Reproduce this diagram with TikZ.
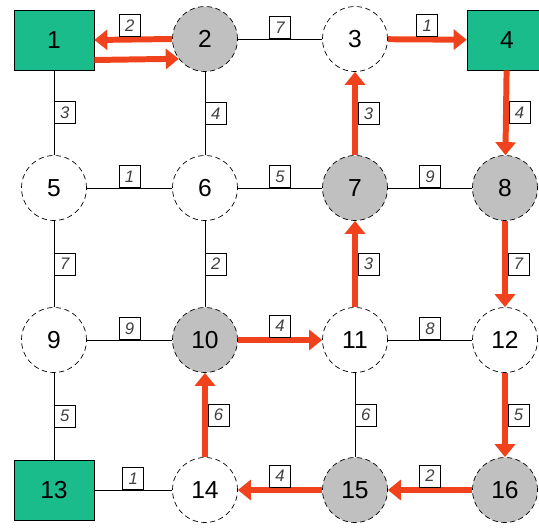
\documentclass[tikz,border=0pt]{standalone}
\usepackage{fontspec}
\setmainfont{Liberation Sans}
\usetikzlibrary{arrows.meta,positioning}
\definecolor{sqgreen}{HTML}{1ABC8C}
\definecolor{pathred}{HTML}{F0421C}
\definecolor{visgray}{HTML}{C0C0C0}

\begin{document}
\begin{tikzpicture}[x=0.02cm,y=-0.02cm,
  circ/.style={circle,draw,densely dashed,thin,minimum size=1.3cm,inner sep=0pt,font=\fontsize{14}{16}\selectfont},
  vis/.style={circ,fill=visgray},
  open/.style={circ,fill=white},
  term/.style={draw,fill=sqgreen,minimum width=1.6cm,minimum height=1.2cm,font=\fontsize{14}{16}\selectfont},
  flow/.style={draw=pathred,line width=3.4pt,-{Triangle[length=0.26cm,width=0.4cm]}},
  wt/.style={draw=black,thin,fill=white,inner sep=0pt,minimum width=0.42cm,minimum height=0.44cm,
    text=black!75,font=\fontsize{9.5}{10}\selectfont\itshape},
  wth/.style={wt,anchor=south},
  wtv/.style={wt,anchor=west}]
\useasboundingbox (0,0) rectangle (539,531);

% nodes, row by row
\node[term] (n1) at (54,40) {1};
\node[vis]  (n2) at (205,39) {2};
\node[open] (n3) at (355,39) {3};
\node[term] (n4) at (507,40) {4};
\node[open] (n5) at (54,188) {5};
\node[open] (n6) at (205,188) {6};
\node[vis]  (n7) at (355,188) {7};
\node[vis]  (n8) at (505,188) {8};
\node[open] (n9) at (54,340) {9};
\node[vis]  (n10) at (205,340) {10};
\node[open] (n11) at (355,340) {11};
\node[open] (n12) at (505,340) {12};
\node[term] (n13) at (54,490) {13};
\node[open] (n14) at (205,490) {14};
\node[vis]  (n15) at (355,490) {15};
\node[vis]  (n16) at (505,490) {16};

% plain edges
\draw (n2) -- node[wth] {7} (n3);
\draw (n1) -- node[wtv] {3} (n5);
\draw (n2) -- node[wtv] {4} (n6);
\draw (n5) -- node[wth] {1} (n6);
\draw (n6) -- node[wth] {5} (n7);
\draw (n7) -- node[wth] {9} (n8);
\draw (n5) -- node[wtv] {7} (n9);
\draw (n6) -- node[wtv] {2} (n10);
\draw (n9) -- node[wth] {9} (n10);
\draw (n11) -- node[wth] {8} (n12);
\draw (n9) -- node[wtv] {5} (n13);
\draw (n13) -- node[wth] {1} (n14);
\draw (n11) -- node[wtv] {6} (n15);

% path edges
\draw[flow] (n2.west) -- node[wth,yshift=1.5pt,xshift=-2pt] {2} (n1.east);
\draw[flow] ([yshift=-0.4cm]n1.east) -- (n2.217);
\draw[flow] (n3) -- node[wth,yshift=1.5pt] {1} (n4);
\draw[flow] (n4) -- node[wtv,xshift=1.5pt] {4} (n8);
\draw[flow] (n7) -- node[wtv,xshift=1.5pt] {3} (n3);
\draw[flow] (n8) -- node[wtv,xshift=1.5pt] {7} (n12);
\draw[flow] (n12) -- node[wtv,xshift=1.5pt] {5} (n16);
\draw[flow] (n16) -- node[wth,yshift=1.5pt] {2} (n15);
\draw[flow] (n15) -- node[wth,yshift=1.5pt] {4} (n14);
\draw[flow] (n14) -- node[wtv,xshift=1.5pt] {6} (n10);
\draw[flow] (n10) -- node[wth,yshift=1.5pt] {4} (n11);
\draw[flow] (n11) -- node[wtv,xshift=1.5pt] {3} (n7);
\end{tikzpicture}
\end{document}
